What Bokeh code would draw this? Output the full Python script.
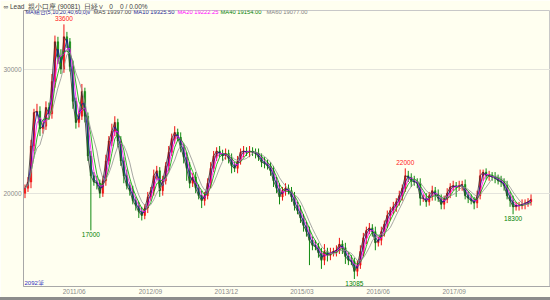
import numpy as np
import pandas as pd
from bokeh.plotting import figure
from bokeh.models import Label, FixedTicker, Range1d, DatetimeTickFormatter, Div
from bokeh.layouts import column
from bokeh.embed import file_html
from bokeh.resources import INLINE

# ---- data (each bar ~ 12 sessions) ----
close = [20400, 20900, 23800, 26500, 26600, 25200, 25400, 26900, 26400, 29000,
         32200, 31000, 30000, 32600, 32200, 30200, 27400, 25700, 26200, 28200,
         26200, 23000, 21400, 20900, 20800, 20000, 21000, 22600, 24200, 25000,
         25700, 24200, 22600, 21400, 20600, 20200, 19400, 19000, 18500, 18200,
         18800, 19700, 20200, 21400, 21800, 20200, 21000, 22200, 23300, 24400,
         24900, 24500, 23700, 22900, 22000, 20800, 21300, 20400, 19800, 19400,
         19800, 20800, 22000, 23000, 23400, 23200, 23000, 23200, 22800, 22200,
         22000, 22600, 23300, 23400, 23300, 23400, 23300, 23200, 22900, 22500,
         22400, 22200, 21800, 21000, 20400, 19700, 20200, 20400, 20200, 19700,
         19000, 18600, 18000, 17400, 16900, 16200, 15800, 15700, 15200, 14600,
         15300, 15000, 15200, 15300, 15400, 15900, 15600, 14900, 14600, 14500,
         13700, 14200, 15300, 16400, 17000, 17200, 16900, 16000, 16200, 16900,
         17500, 18200, 18600, 18900, 19300, 19800, 20400, 21400, 21300, 21000,
         20900, 20800, 19600, 19600, 19300, 19800, 20200, 19900, 19600, 19100,
         19500, 20000, 20500, 20600, 20500, 20600, 20700, 19800, 19600, 19400,
         19200, 19800, 21400, 21700, 21400, 21400, 21300, 21200, 21000, 20900,
         20600, 19800, 19400, 18900, 19000, 19000, 19100, 19200, 19300, 19500]
up_wick = [300, 400, 500, 300, 600, 400, 300, 500, 400, 600,
           500, 400, 600, 1000, 400, 300, 500, 300, 400, 600,
           300, 300, 400, 300, 500, 300, 400, 500, 400, 600,
           500, 300, 400, 300, 500, 300, 400, 300, 300, 400,
           300, 400, 300, 500, 400, 300, 400, 300, 500, 400,
           500, 300, 400, 300, 400, 500, 300, 400, 300, 400,
           300, 400, 500, 400, 300, 400, 300, 400, 300, 400,
           300, 400, 300, 400, 300, 400, 300, 300, 400, 300,
           400, 300, 300, 400, 300, 400, 300, 400, 300, 300,
           400, 300, 400, 300, 300, 400, 300, 400, 300, 400,
           600, 300, 400, 300, 400, 500, 300, 400, 300, 400,
           300, 400, 500, 400, 300, 400, 300, 400, 300, 400,
           300, 400, 300, 400, 300, 400, 300, 600, 400, 300,
           400, 300, 400, 300, 400, 300, 400, 300, 400, 300,
           300, 400, 300, 400, 300, 400, 300, 400, 300, 300,
           300, 400, 500, 200, 300, 400, 300, 400, 300, 400,
           300, 400, 300, 400, 300, 300, 400, 300, 300, 400]
down_wick = [400, 300, 500, 400, 300, 600, 400, 300, 500, 400,
             500, 600, 400, 300, 500, 400, 600, 500, 400, 300,
             500, 400, 4400, 300, 500, 400, 300, 400, 300, 400,
             400, 500, 400, 600, 300, 400, 300, 400, 500, 400,
             300, 400, 300, 400, 300, 500, 400, 300, 400, 300,
             400, 300, 400, 500, 1000, 400, 300, 400, 300, 600,
             400, 300, 400, 300, 400, 300, 400, 300, 400, 600,
             300, 400, 300, 400, 300, 400, 300, 400, 300, 400,
             400, 300, 400, 500, 400, 600, 300, 400, 300, 400,
             400, 300, 400, 500, 400, 2000, 400, 300, 400, 700,
             400, 500, 400, 300, 400, 300, 500, 600, 400, 300,
             615, 400, 300, 400, 500, 300, 400, 600, 300, 400,
             400, 300, 400, 300, 400, 300, 400, 300, 400, 500,
             300, 400, 600, 300, 400, 300, 400, 500, 300, 400,
             400, 300, 400, 300, 800, 300, 400, 300, 400, 300,
             500, 400, 300, 400, 300, 400, 300, 400, 300, 400,
             400, 300, 500, 600, 300, 400, 300, 400, 300, 300]
first_open = 20000
first_date = "2010-08-09"
bar_step = "18D"

peak_idx = [13, 127]
trough_idx = [22, 110, 163]

x_tick_labels = ["2011/06", "2012/09", "2013/12", "2015/03", "2016/06", "2017/09"]
y_ticks = [20000, 30000]
ma_names = ["MA5", "MA10", "MA20", "MA40", "MA60"]
ma_last = [19397.00, 19325.50, 19222.25, 19154.00, 19077.00]
ma_windows = [1, 2, 3, 4, 6]
ma_colors = ["#303030", "#1010A0", "#FF00FF", "#00A000", "#909090"]
ma_text_colors = ["#404040", "#202090", "#FF00FF", "#008000", "#808080"]
header_parts = ["∞ Lead_親小口座 (90081)", "日経∨", "0", "0 / 0.00%"]
count_text = "2092筆"

# ---- derived ----
dates = pd.date_range(first_date, periods=len(close), freq=bar_step)
c = np.array(close, dtype=float)
o = np.array([first_open] + close[:-1], dtype=float)
hi = np.maximum(o, c) + np.array(up_wick)
lo = np.minimum(o, c) - np.array(down_wick)
up = c >= o
col = np.where(up, "#F01010", "#108A10")
step = pd.Timedelta(bar_step)

BG = "#FFFFF0"
F = "Liberation Sans"
x0 = dates[0] - step / 2
x1 = x0 + step / 3 * 528
nb = "\u00a0"
p = figure(width=550, height=297, output_backend="svg", toolbar_location=None,
           x_axis_type="datetime",
           x_range=Range1d(x0, x1), y_range=Range1d(12480, 34720),
           min_border_left=22, min_border_right=0, min_border_top=0, min_border_bottom=10,
           title=(nb * 2).join([header_parts[0], header_parts[1]]) + nb * 3
                 + header_parts[2] + nb * 4 + header_parts[3])
p.title.text_font = F
p.title.text_font_size = "6.5px"
p.title.text_font_style = "normal"
p.title.text_color = "#404040"
p.title.standoff = 1
p.title.offset = -20
p.title.align = "left"
p.background_fill_color = BG
p.border_fill_color = BG
p.outline_line_color = "#C8C8C8"

p.segment(x0=dates, y0=hi, x1=dates, y1=lo, line_color=col, line_width=1)
p.vbar(x=dates, width=step.total_seconds() * 1000 * 0.5,
       top=np.maximum(o, c), bottom=np.minimum(o, c),
       fill_color=col, line_color=col, line_width=0.5)

for w, clr in zip(ma_windows, ma_colors):
    ma = pd.Series(c).rolling(w, min_periods=1).mean()
    p.line(dates, ma.values, line_color=clr, line_width=0.8)

# axes
p.yaxis.ticker = FixedTicker(ticks=y_ticks)
p.ygrid.ticker = FixedTicker(ticks=y_ticks)
p.ygrid.grid_line_color = "#E4E4DC"
p.xgrid.grid_line_color = None
tick_ts = [pd.Timestamp(t.replace("/", "-") + "-01") for t in x_tick_labels]
p.xaxis.ticker = FixedTicker(ticks=[t.value / 1e6 for t in tick_ts])
fmt = "%Y/%m"
p.xaxis.formatter = DatetimeTickFormatter(years=fmt, months=fmt, days=fmt, hours=fmt,
                                          minutes=fmt, seconds=fmt, milliseconds=fmt)
for ax in (p.xaxis[0], p.yaxis[0]):
    ax.major_tick_in = 0
    ax.major_tick_out = 0
    ax.minor_tick_in = 0
    ax.minor_tick_out = 0
    ax.axis_line_color = "#A8A8A8"
    ax.major_label_text_color = "#8A8A8A"
    ax.major_label_text_font = F
    ax.major_label_text_font_size = "6.5px"
p.yaxis.major_label_standoff = 2
p.xaxis.major_label_standoff = 1

# extreme annotations
for i in peak_idx:
    p.add_layout(Label(x=dates[i], y=hi[i], text=f"{int(hi[i])}", text_align="center",
                       text_baseline="bottom", y_offset=3, text_color="#FF2020",
                       text_font=F, text_font_size="6.5px"))
for i in trough_idx:
    p.add_layout(Label(x=dates[i], y=lo[i], text=f"{int(lo[i])}", text_align="center",
                       text_baseline="top", y_offset=-2, text_color="#008000",
                       text_font=F, text_font_size="6.5px"))

# legend row (screen units relative to frame: x from left, y from bottom)
def lab(x, y, t, clr, size="6px"):
    p.add_layout(Label(x=x, y=y, x_units="screen", y_units="screen", text=t,
                       text_color=clr, text_font=F, text_font_size=size,
                       text_baseline="middle"))

ly = 274.5
lab(2, ly, "MA組合(5,10,20,40,60,0)", "#202090", "5.5px")
lab(63, ly, "∨", "#202090", "5px")
xs = [70, 110, 154, 197, 243]
for xx, n, v, tc in zip(xs, ma_names, ma_last, ma_text_colors):
    lab(xx, ly, f"{n} {v:.2f}", tc, "5.8px")
lab(1, 4, count_text, "#3030C0", "6px")

band = Div(text="", width=550, height=3, margin=0,
           styles={"background-color": "#8C8C8C"})
layout = column(p, band, spacing=0)
open("out.html", "w").write(file_html(layout, INLINE))
